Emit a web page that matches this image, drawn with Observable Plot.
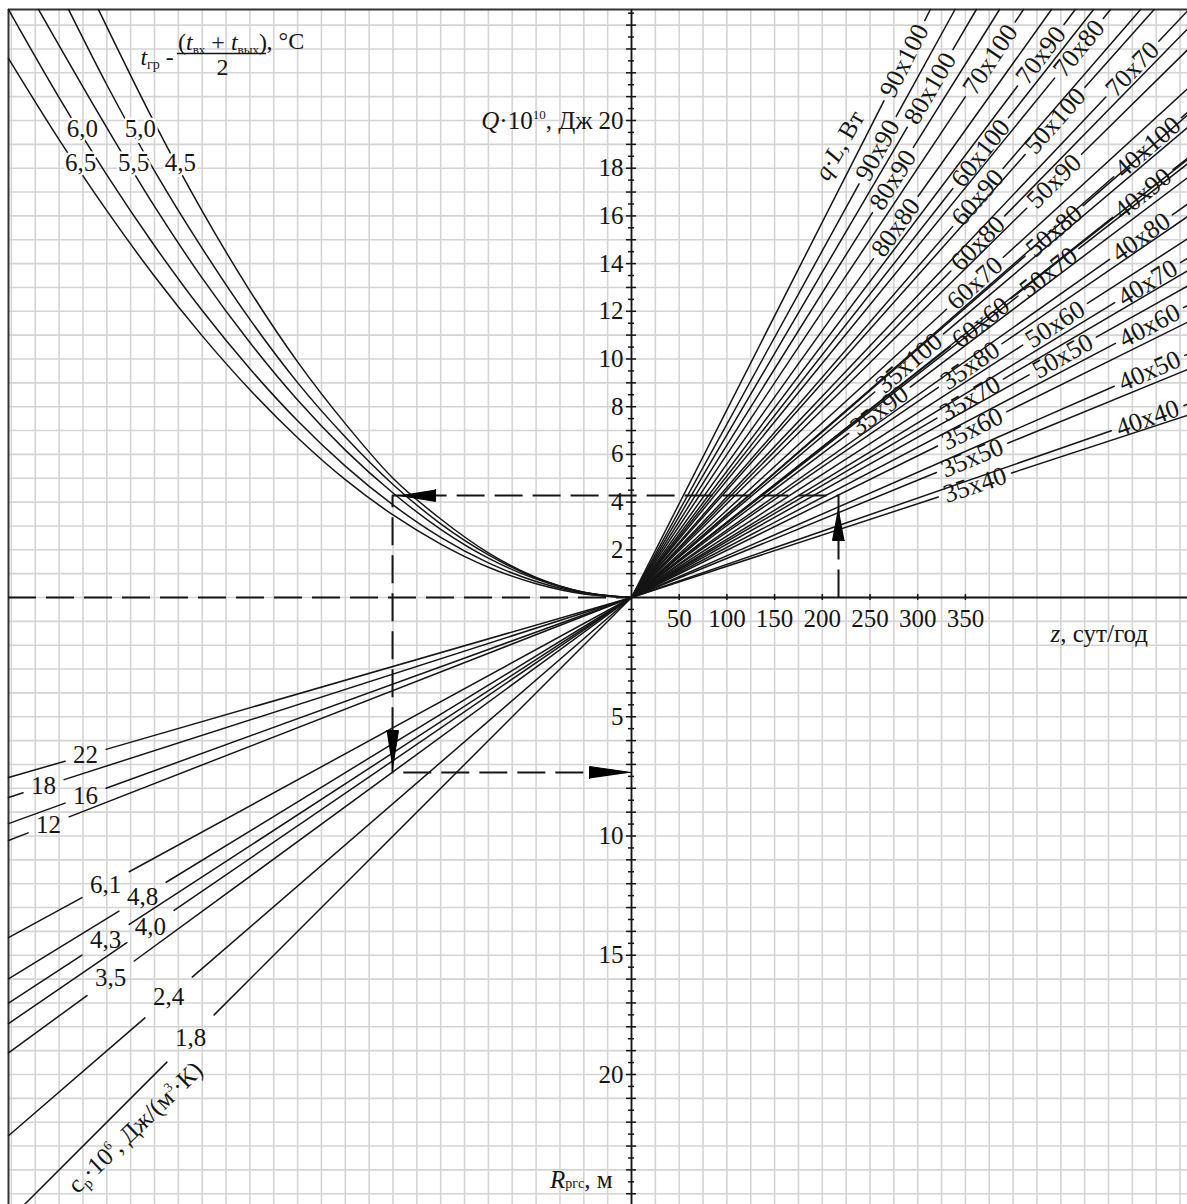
<!DOCTYPE html>
<html><head><meta charset="utf-8">
<script src="https://cdn.jsdelivr.net/npm/d3@7"></script>
<script src="https://cdn.jsdelivr.net/npm/@observablehq/plot@0.6"></script>
<style>html,body{margin:0;padding:0;background:#fff;} svg{display:block;}</style>
</head><body><div id="chart"></div>
<script>
// ================= DATA =================
// Axis tick labels
const zTicks = [50, 100, 150, 200, 250, 300, 350];          // z, сут/год
const qTicks = [2, 4, 6, 8, 10, 12, 14, 16, 18, 20];         // Q·10^10, Дж
const rTicks = [5, 10, 15, 20];                              // Rргс, м

// Upper-right fan: q·L, Вт  -> Q (·10^10 Дж) reached at z = 100 сут, and z where the label sits
const qlNames = ["35x40","35x50","35x60","35x70","35x80","35x90","35x100",
                 "40x40","40x50","40x60","40x70","40x80","40x90","40x100",
                 "50x50","50x60","50x70","50x80","50x90","50x100",
                 "60x60","60x70","60x80","60x90","60x100",
                 "70x70","70x80","70x90","70x100",
                 "80x80","80x90","80x100",
                 "90x90","90x100"];
const qlQat100 = [1.31,1.64,1.98,2.35,2.74,3.02,3.38,
                  1.39,1.75,2.10,2.44,2.83,3.16,3.49,
                  2.24,2.58,3.12,3.47,3.94,4.50,
                  3.15,3.66,4.09,4.62,5.09,
                  4.22,4.91,5.30,6.00,
                  5.60,6.39,6.82,
                  7.27,7.87];
const qlLabelZ = [360,357,357,355,355,260,291,
                  541,543,543,541,534,536,541,
                  452,444,437,443,443,444,
                  366,360,363,363,366,
                  525,469,429,376,
                  277,274,313,
                  258,286];

// Lower-left fan: cp·10^6, Дж/(м³·К) -> R (м) per unit of the (unlabelled) left scale
const cpNames  = ["22","18","16","12","6,1","4,8","4,3","4,0","3,5","2,4","1,8"];
const cpSlope  = [0.289,0.321,0.363,0.390,0.546,0.612,0.651,0.684,0.731,0.864,1.0];
const cpLabelU = [-22.89,-24.65,-22.89,-24.44,-22.05,-20.50,-22.05,-20.17,-21.84,-19.41,-18.49];

// Upper-left curves: t_гр − (t_вх + t_вых)/2, °C ; points [u, Q]
const dtNames = ["4,5","5,0","5,5","6,0","6,5"];
const dt45 = [[0,0],[-2,0.22],[-4,0.84],[-6,1.87],[-8,3.29],[-10,5.0],[-12,7.29],[-14,9.88],[-16,12.86],[-18,16.2],[-20,19.9],[-22.35,24.65]];
const dt50 = [[0,0],[-2,0.22],[-4,0.82],[-6,1.79],[-8,3.09],[-10,4.74],[-12,6.73],[-14,9.01],[-16,11.66],[-18,14.64],[-20,17.89],[-22,21.5],[-23.6,24.65]];
const dt55 = [[0,0],[-2,0.21],[-4,0.77],[-6,1.65],[-8,2.86],[-10,4.38],[-12,6.18],[-14,8.28],[-16,10.69],[-18,13.39],[-20,16.4],[-22,19.7],[-24.86,24.65]];
const dt60 = [[0,0],[-2,0.18],[-4,0.67],[-6,1.45],[-8,2.52],[-10,3.88],[-12,5.51],[-14,7.41],[-16,9.59],[-18,12.03],[-20,14.75],[-22,17.72],[-24,20.96],[-26.12,24.65]];
const dt65 = [[0,0],[-2,0.15],[-4,0.58],[-6,1.27],[-8,2.24],[-10,3.46],[-12,4.94],[-14,6.70],[-16,8.71],[-18,10.97],[-20,13.47],[-22,16.22],[-24,19.2],[-26.12,22.6]];
const dtCurves = [dt45, dt50, dt55, dt60, dt65];
const dtLabelAt = [[-18.91,18.2],[-20.59,19.66],[-20.88,18.2],[-23.02,19.66],[-23.10,18.2]];

// Worked example (dashed key)
const exZ = 217, exQ = 4.28, exU = -10.02, exR = 7.34;

// ================= LAYOUT =================
const W = 1187, H = 1204, ML = 8, MT = 9, OX = 631, OY = 597;
const CELL = 23.85;          // px per grid cell
const ZC = 25;               // сут per grid cell
const px = v => v / CELL;
const xDom = [(ML - OX) / CELL, (W - OX) / CELL];
const yDom = [(OY - H) / CELL, (OY - MT) / CELL];
const FONT = "'Liberation Serif','Times New Roman',serif";
const INK = "#151515";
const FS = 25, FSL = 26;
const textW = (s, fs) => { let w = 0; for (const c of s) w += (c === "," ? 0.25 : 0.5) * fs; return w; };

// upper-right line segments with gaps for labels
const qlRows = qlNames.map((name, i) => {
  const s = qlQat100[i] / (100 / ZC);
  const gxL = qlLabelZ[i] / ZC;
  const xEnd = Math.min(xDom[1], yDom[1] / s);
  const ang = Math.atan(s);
  const half = px(textW(name, FSL) / 2 + 6) * Math.cos(ang);
  return {name, s, gxL, xEnd, ang, half};
});
const qlSegs = qlRows.flatMap(r => [
  {id: r.name + "a", x: 0, y: 0},
  {id: r.name + "a", x: r.gxL - r.half, y: r.s * (r.gxL - r.half)},
  {id: r.name + "b", x: r.gxL + r.half, y: r.s * (r.gxL + r.half)},
  {id: r.name + "b", x: r.xEnd, y: r.s * r.xEnd}
]);
const qlLabels = qlRows.map(r => ({name: r.name, x: r.gxL, y: r.s * r.gxL, rot: -r.ang * 180 / Math.PI}));

// lower-left line segments
const cpRows = cpNames.map((name, i) => {
  const k = cpSlope[i], uL = cpLabelU[i];
  const uEnd = Math.max(xDom[0], yDom[0] / k);
  const half = px(textW(name, FS) / 2 + 8);
  return {name, k, uL, uEnd, half};
});
const cpSegs = cpRows.flatMap(r => {
  const a = [];
  if (r.uL - r.half > r.uEnd) {
    a.push({id: r.name + "a", x: r.uEnd, y: r.k * r.uEnd});
    a.push({id: r.name + "a", x: r.uL - r.half, y: r.k * (r.uL - r.half)});
  }
  return a.concat([
    {id: r.name + "b", x: r.uL + r.half, y: r.k * (r.uL + r.half)},
    {id: r.name + "b", x: 0, y: 0}
  ]);
});
const cpLabels = cpRows.map(r => ({name: r.name, x: r.uL, y: r.k * r.uL}));

// upper-left curves
const dtPts = dtCurves.flatMap((c, i) => c.map(([u, q]) => ({id: dtNames[i], x: u, y: q})).sort((a, b) => a.x - b.x));
const dtLabels = dtNames.map((n, i) => ({name: n, x: dtLabelAt[i][0], y: dtLabelAt[i][1]}));

// example path + arrows
const exPath = [[exZ / ZC, 0], [exZ / ZC, exQ], [exU, exQ], [exU, -exR], [0, -exR]].map(([x, y]) => ({x, y}));
const AW = px(6);
function tri(id, tx, ty, dx, dy, lenPx) {
  const L = px(lenPx), bx = tx - dx * L, by = ty - dy * L;
  return [{id, x: tx, y: ty}, {id, x: bx - dy * AW, y: by + dx * AW}, {id, x: bx + dy * AW, y: by - dx * AW}];
}
const arrows = [
  ...tri("up", exZ / ZC, exQ - px(13), 0, 1, 32),
  ...tri("left", exU + px(6), exQ, -1, 0, 37),
  ...tri("down", exU, -exR + px(4), 0, -1, 38),
  ...tri("right", 0, -exR, 1, 0, 42)
];

// axis ticks
const qMinor = d3.range(0.5, yDom[1], 0.5);
const rMinor = d3.range(-0.5, yDom[0], -0.5);
const tickHalf = d => Number.isInteger(d) ? px(5) : px(3);

const txt = {fontFamily: FONT, fill: INK};
const DASH = "28,10";

const chart = Plot.plot({
  width: W, height: H,
  marginLeft: ML, marginTop: MT, marginRight: 0, marginBottom: 0,
  x: {domain: xDom, axis: null},
  y: {domain: yDom, axis: null},
  style: {fontFamily: FONT, background: "#fff", color: INK},
  marks: [
    // grid
    Plot.ruleX(d3.range(Math.ceil(xDom[0]), xDom[1], 1), {stroke: "#d4d4d4", strokeWidth: 1.6}),
    Plot.ruleY(d3.range(Math.ceil(yDom[0]), yDom[1], 1), {stroke: "#d4d4d4", strokeWidth: 1.6}),
    // frame top/left
    Plot.ruleY([yDom[1]], {stroke: "#333", strokeWidth: 2}),
    Plot.ruleX([xDom[0]], {stroke: "#333", strokeWidth: 2}),
    // axes
    Plot.ruleX([0], {stroke: INK, strokeWidth: 1.8}),
    Plot.ruleY([0], {x1: 0, x2: xDom[1], stroke: INK, strokeWidth: 1.8}),
    Plot.ruleY([0], {x1: xDom[0], x2: 0, stroke: INK, strokeWidth: 1.8, strokeDasharray: DASH}),
    // ticks
    Plot.ruleY(qMinor, {y: d => d, x1: d => -tickHalf(d), x2: d => tickHalf(d), stroke: INK, strokeWidth: 1.5}),
    Plot.ruleY(rMinor, {y: d => d, x1: d => -tickHalf(-d), x2: d => tickHalf(-d), stroke: INK, strokeWidth: 1.5}),
    Plot.ruleX(zTicks, {x: d => d / ZC, y1: -px(3), y2: px(3), stroke: INK, strokeWidth: 1.5}),
    // example dashed path
    Plot.line(exPath, {x: "x", y: "y", stroke: INK, strokeWidth: 2, strokeDasharray: DASH, strokeLinecap: "butt", strokeLinejoin: "miter"}),
    // curves & lines
    Plot.line(dtPts, {x: "x", y: "y", z: "id", curve: "monotone-x", stroke: INK, strokeWidth: 1.5}),
    Plot.line(qlSegs, {x: "x", y: "y", z: "id", stroke: INK, strokeWidth: 1.5}),
    Plot.line(cpSegs, {x: "x", y: "y", z: "id", stroke: INK, strokeWidth: 1.5}),
    // arrows
    Plot.line(arrows, {x: "x", y: "y", z: "id", fill: "#000", stroke: "#000", strokeWidth: 1}),
    // line labels
    Plot.text(qlLabels, {x: "x", y: "y", text: "name", rotate: "rot", fontSize: FSL, ...txt}),
    Plot.text(cpLabels, {x: "x", y: "y", text: "name", fontSize: FS, ...txt}),
    Plot.text(dtLabels, {x: "x", y: "y", text: "name", fontSize: FS, stroke: "#fff", strokeWidth: 5, paintOrder: "stroke", ...txt}),
    // tick labels
    Plot.text(qTicks, {x: 0, y: d => d, text: d => String(d), dx: -8, textAnchor: "end", fontSize: FS, ...txt}),
    Plot.text(rTicks, {x: 0, y: d => -d, text: d => String(d), dx: -8, textAnchor: "end", fontSize: FS, ...txt}),
    Plot.text(zTicks, {x: d => d / ZC, y: 0, text: d => String(d), dy: 21, fontSize: FS, ...txt}),
    // axis titles
    Plot.text(["Q·10¹⁰, Дж"], {x: 0, y: 20, text: d => d, dx: -39, textAnchor: "end", fontSize: FS, ...txt}),
    Plot.text(["z, сут/год"], {x: 17.57, y: 0, text: d => d, dy: 36, textAnchor: "start", fontSize: FS, ...txt}),
    Plot.text(["Rргс, м"], {x: 0, y: -24.44, text: d => d, dx: -19, textAnchor: "end", fontSize: FS, ...txt}),
    Plot.text(["q·L, Вт"], {x: 8.72, y: 18.95, text: d => d, rotate: -60, fontSize: FS, ...txt}),
    Plot.text(["cp·10⁶, Дж/(м³·К)"], {x: -20.80, y: -22.22, text: d => d, rotate: -44, fontSize: FS, ...txt}),
    // top-left fraction title
    Plot.text(["tгр - "], {x: -20.59, y: 22.64, text: d => d, textAnchor: "start", fontSize: 24, ...txt}),
    Plot.text(["(tвх + tвых)"], {x: -17.15, y: 23.27, text: d => d, fontSize: 24, ...txt}),
    Plot.ruleY([22.81], {x1: -19.04, x2: -15.30, stroke: INK, strokeWidth: 1.5}),
    Plot.text(["2"], {x: -17.15, y: 22.22, text: d => d, fontSize: 24, ...txt}),
    Plot.text([", °C"], {x: -15.30, y: 23.31, text: d => d, textAnchor: "start", fontSize: 24, ...txt})
  ]
});

// rich text (italics, sub/superscripts)
const rich = {
  "Q·10¹⁰, Дж": '<tspan font-style="italic">Q</tspan>·10<tspan font-size="13" dy="-10">10</tspan><tspan dy="10">, Дж</tspan>',
  "z, сут/год": '<tspan font-style="italic">z</tspan>, сут/год',
  "Rргс, м": '<tspan font-style="italic">R</tspan><tspan font-size="14">ргс</tspan>, м',
  "q·L, Вт": '<tspan font-style="italic">q</tspan>·<tspan font-style="italic">L</tspan>, Вт',
  "cp·10⁶, Дж/(м³·К)": 'c<tspan font-size="15" dy="4">p</tspan><tspan dy="-4">·10</tspan><tspan font-size="13" dy="-10">6</tspan><tspan dy="10">, Дж/(м</tspan><tspan font-size="13" dy="-10">3</tspan><tspan dy="10">·К)</tspan>',
  "tгр - ": '<tspan font-style="italic">t</tspan><tspan font-size="14" dy="4">гр</tspan><tspan dy="-4"> - </tspan>',
  "(tвх + tвых)": '(<tspan font-style="italic">t</tspan><tspan font-size="13" dy="4">вх</tspan><tspan dy="-4"> + </tspan><tspan font-style="italic">t</tspan><tspan font-size="13" dy="4">вых</tspan><tspan dy="-4">)</tspan>'
};
d3.select(chart).selectAll("text").each(function () {
  const t = this.textContent;
  if (rich[t]) this.innerHTML = rich[t];
});

document.getElementById("chart").appendChild(chart);
</script>
</body></html>
